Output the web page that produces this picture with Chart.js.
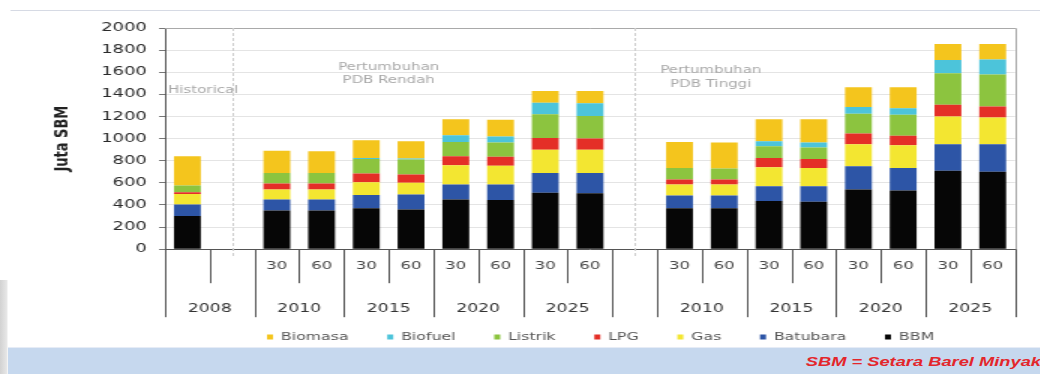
<!DOCTYPE html>
<html>
<head>
<meta charset="utf-8">
<title>Proyeksi kebutuhan energi final</title>
<script src="https://cdn.jsdelivr.net/npm/chart.js@4.4.0/dist/chart.umd.min.js"></script>
<style>
  html, body { margin: 0; padding: 0; background: #fff; overflow: hidden; }
  /* the whole sheet is laid out narrow and stretched sideways */
  #page { position: relative; width: 694px; height: 374px; transform: scaleX(1.5); transform-origin: 0 0; background: #fff; overflow: hidden; }
  #topline { position: absolute; left: 7px; right: 0; top: 10px; height: 1px; background: #d6dae4; }
  #shadow { position: absolute; left: 0; top: 280px; width: 5px; height: 94px; background: linear-gradient(to right, #d2d2d2, #e9e9e9); }
  #chartBox { position: absolute; left: 0; top: 12px; width: 694px; height: 345px; }
  #band { position: absolute; left: 5px; right: 0; top: 347px; height: 27px; background: #c6d8ee; border-top: 1px solid #e6ecf6; z-index: 2; }
  #note { position: absolute; right: 0; top: 7px; line-height: 14px; font: italic bold 12.2px "Liberation Sans", Arial, sans-serif; color: #e3262b; white-space: nowrap; }
</style>
</head>
<body>
<div id="page">
  <div id="topline"></div>
  <div id="shadow"></div>
  <div id="chartBox"><canvas id="energyChart" width="694" height="345"></canvas></div>
  <div id="band"><div id="note">SBM = Setara Barel Minyak</div></div>
</div>
<script>
// x axis: scenario (30 / 60) under each bar, year under each group
const subLabels = ['', '', '30', '60', '30', '60', '30', '60', '30', '60', '', '30', '60', '30', '60', '30', '60', '30', '60'];
const yearLabels = ['2008', '2008', '2010', '2010', '2015', '2015', '2020', '2020', '2025', '2025', '', '2010', '2010', '2015', '2015', '2020', '2020', '2025', '2025'];

// juta SBM per energy type, stacked from the bottom up
const bbm      = [300, null, 350, 350, 370, 360, 450, 445, 510, 505, null, 370, 370, 435, 430, 540, 530, 710, 700];
const batubara = [105, null, 100, 100, 120, 135, 135, 140, 180, 185, null, 115, 115, 135, 140, 210, 205, 240, 250];
const gas      = [95, null, 90, 90, 115, 105, 175, 170, 210, 210, null, 100, 100, 170, 165, 200, 205, 250, 240];
const lpg      = [15, null, 55, 55, 80, 75, 80, 80, 105, 100, null, 45, 45, 85, 80, 95, 85, 105, 100];
const listrik  = [60, null, 95, 95, 130, 135, 130, 130, 215, 205, null, 105, 100, 105, 105, 180, 190, 285, 290];
const biofuel  = [0, null, 0, 0, 10, 10, 60, 55, 105, 115, null, 0, 0, 45, 45, 60, 60, 120, 135];
const biomasa  = [265, null, 200, 195, 160, 155, 145, 150, 105, 110, null, 235, 235, 200, 210, 180, 190, 145, 140];

const yTicks = [0, 200, 400, 600, 800, 1000, 1200, 1400, 1600, 1800, 2000];

const FONT = '"DejaVu Sans", Verdana, sans-serif';

// scenario notes inside the plot
const notes = [
  { lines: ['Historical'], at: 'left', x: 0, y: [1435] },
  { lines: ['Pertumbuhan', 'PDB Rendah'], at: 'center', x: 4.5, y: [1640, 1525] },
  { lines: ['Pertumbuhan', 'PDB Tinggi'], at: 'center', x: 11.7, y: [1617, 1490] }
];

const decor = {
  id: 'decor',
  afterLayout(chart) {
    // legend sits a little right of the plot centre
    chart.legend.left += 7;
    chart.legend.right += 7;
  },
  beforeDatasetsDraw(chart) {
    const { ctx, chartArea: a, scales: { x, y } } = chart;
    ctx.save();
    // top and right frame of the plot
    ctx.strokeStyle = '#a9a9a9';
    ctx.lineWidth = 1;
    ctx.beginPath();
    ctx.moveTo(a.left, Math.round(a.top) + 0.5);
    ctx.lineTo(Math.round(a.right) + 0.5, Math.round(a.top) + 0.5);
    ctx.lineTo(Math.round(a.right) + 0.5, a.bottom);
    ctx.stroke();

    // dotted dividers through the empty slots
    ctx.strokeStyle = '#cfcfcf';
    ctx.setLineDash([3, 2]);
    bbm.forEach((v, i) => {
      if (v !== null) return;
      const px = Math.round(x.getPixelForValue(i)) + 0.5;
      ctx.beginPath();
      ctx.moveTo(px, a.top);
      ctx.lineTo(px, a.bottom + 7);
      ctx.stroke();
    });
    ctx.setLineDash([]);

    ctx.fillStyle = '#a8a8a8';
    ctx.font = '10px ' + FONT;
    ctx.textBaseline = 'middle';
    notes.forEach(n => {
      const px = n.at === 'left' ? a.left + 2 : x.getPixelForValue(n.x);
      ctx.textAlign = n.at;
      n.lines.forEach((t, k) => ctx.fillText(t, px, y.getPixelForValue(n.y[k])));
    });
    ctx.restore();
  },
  afterDraw(chart) {
    const { ctx, chartArea: a, scales: { x } } = chart;
    const n = subLabels.length;
    const edge = i => i <= 0 ? a.left : i >= n ? a.right : (x.getPixelForValue(i - 1) + x.getPixelForValue(i)) / 2;
    ctx.save();
    ctx.strokeStyle = '#555';
    ctx.lineWidth = 1;
    for (let i = 0; i <= n; i++) {
      const px = Math.round(edge(i)) + 0.5;
      const long = i === 0 || i === n || yearLabels[i] !== yearLabels[i - 1];
      ctx.beginPath();
      ctx.moveTo(px, a.bottom);
      ctx.lineTo(px, a.bottom + (long ? 68 : 34));
      ctx.stroke();
    }

    ctx.textAlign = 'center';
    ctx.textBaseline = 'middle';
    ctx.fillStyle = '#444';
    ctx.font = '11px ' + FONT;
    subLabels.forEach((s, i) => {
      if (s) ctx.fillText(s, x.getPixelForValue(i), a.bottom + 17);
    });

    ctx.fillStyle = '#333';
    ctx.font = '11.5px ' + FONT;
    let start = 0;
    for (let i = 1; i <= n; i++) {
      if (i === n || yearLabels[i] !== yearLabels[start]) {
        if (yearLabels[start]) ctx.fillText(yearLabels[start], (edge(start) + edge(i)) / 2, a.bottom + 60);
        start = i;
      }
    }
    ctx.restore();
  }
};

const ctx = document.getElementById('energyChart').getContext('2d');
new Chart(ctx, {
  type: 'bar',
  data: {
    labels: subLabels,
    datasets: [
      { label: 'BBM', data: bbm, backgroundColor: '#060606' },
      { label: 'Batubara', data: batubara, backgroundColor: '#2d55a6' },
      { label: 'Gas', data: gas, backgroundColor: '#f3e631' },
      { label: 'LPG', data: lpg, backgroundColor: '#e42f27' },
      { label: 'Listrik', data: listrik, backgroundColor: '#8cc43f' },
      { label: 'Biofuel', data: biofuel, backgroundColor: '#4cc4da' },
      { label: 'Biomasa', data: biomasa, backgroundColor: '#f4c51d' }
    ]
  },
  options: {
    responsive: false,
    animation: false,
    barPercentage: 0.6,
    categoryPercentage: 1.0,
    layout: { padding: { left: 0, right: 17.3, top: 16, bottom: 4.75 } },
    scales: {
      x: {
        stacked: true,
        ticks: { display: false },
        grid: { display: false },
        border: { display: true, color: '#555' },
        afterFit: s => { s.height = 56.75; }
      },
      y: {
        stacked: true,
        min: 0,
        max: 2000,
        afterBuildTicks: s => { s.ticks = yTicks.map(v => ({ value: v })); },
        ticks: { color: '#2a2a2a', padding: 8, font: { family: FONT, size: 12 }, callback: v => String(v) },
        grid: { color: '#e4e4e4', tickColor: '#777', tickLength: 4 },
        border: { color: '#555' },
        title: {
          display: true,
          text: 'Juta SBM',
          color: '#222',
          font: { family: FONT, size: 13, weight: 'bold' },
          padding: { top: 33.5, bottom: 0 }
        },
        afterFit: s => { s.width = 110; }
      }
    },
    plugins: {
      legend: {
        position: 'bottom',
        fullSize: false,
        reverse: true,
        labels: {
          boxWidth: 4,
          boxHeight: 5,
          padding: 25.8,
          color: '#555',
          font: { family: FONT, size: 10.5 }
        }
      },
      tooltip: { enabled: false }
    }
  },
  plugins: [decor]
});
</script>
</body>
</html>
